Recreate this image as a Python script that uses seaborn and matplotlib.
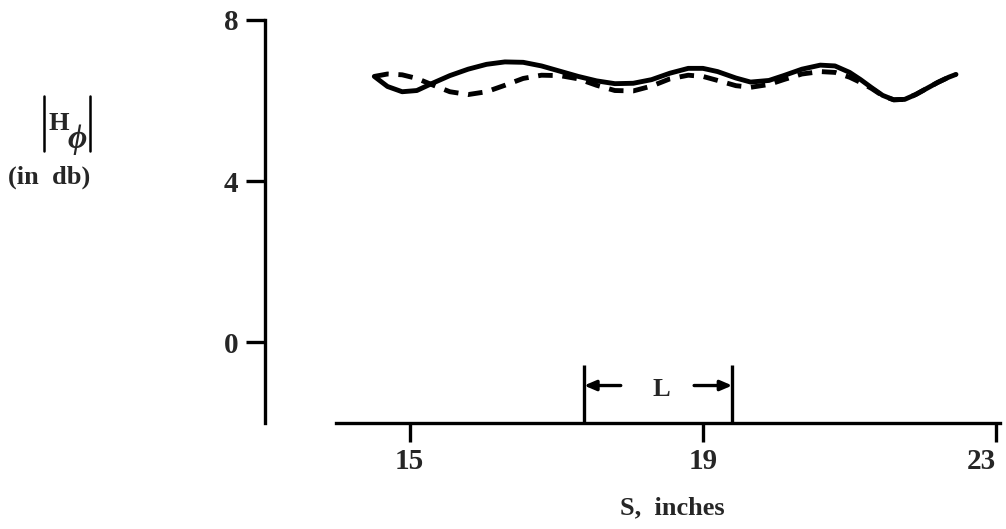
import numpy as np
import pandas as pd
import matplotlib
matplotlib.use("Agg")
import matplotlib.pyplot as plt
from matplotlib.lines import Line2D
import seaborn as sns

# Data
s_solid = [14.52, 14.7, 14.9, 15.1, 15.3, 15.55, 15.8, 16.05, 16.3, 16.55, 16.8, 17.05, 17.3, 17.55, 17.8, 18.05, 18.3, 18.55, 18.8, 19.0, 19.2, 19.45, 19.65, 19.9, 20.1, 20.35, 20.6, 20.8, 21.0, 21.15, 21.3, 21.45, 21.6, 21.75, 21.9, 22.05, 22.2, 22.35, 22.45]
db_solid = [6.60, 6.35, 6.22, 6.25, 6.42, 6.62, 6.78, 6.90, 6.96, 6.95, 6.86, 6.73, 6.60, 6.49, 6.42, 6.43, 6.52, 6.68, 6.80, 6.80, 6.72, 6.56, 6.46, 6.50, 6.62, 6.78, 6.88, 6.86, 6.70, 6.52, 6.32, 6.13, 6.02, 6.03, 6.15, 6.30, 6.45, 6.58, 6.65]
s_dashed = [14.52, 14.7, 14.9, 15.1, 15.3, 15.55, 15.8, 16.05, 16.3, 16.55, 16.8, 17.05, 17.3, 17.55, 17.8, 18.05, 18.3, 18.55, 18.8, 19.0, 19.2, 19.45, 19.65, 19.9, 20.1, 20.35, 20.6, 20.8, 21.0, 21.15, 21.3, 21.45, 21.6, 21.75, 21.9, 22.05, 22.2, 22.35, 22.45]
db_dashed = [6.60, 6.66, 6.64, 6.55, 6.40, 6.22, 6.15, 6.22, 6.38, 6.55, 6.63, 6.62, 6.54, 6.38, 6.25, 6.24, 6.36, 6.54, 6.63, 6.60, 6.50, 6.37, 6.33, 6.40, 6.52, 6.66, 6.72, 6.70, 6.58, 6.45, 6.30, 6.12, 6.02, 6.03, 6.15, 6.30, 6.45, 6.58, 6.65]
x_ticks = [15, 19, 23]
y_ticks = [0, 4, 8]
L_span = [17.38, 19.40]

df = pd.concat([
    pd.DataFrame({"S": s_solid, "dB": db_solid, "curve": "a"}),
    pd.DataFrame({"S": s_dashed, "dB": db_dashed, "curve": "b"}),
])

sns.set_style("white")
plt.rcParams["font.family"] = ["Liberation Serif", "DejaVu Serif"]
plt.rcParams["font.weight"] = "bold"

fig = plt.figure(figsize=(10.06, 5.29), dpi=100)
W, H = 1006, 529
ax = fig.add_axes([265 / W, (H - 423) / H, (1000 - 265) / W, (423 - 20) / H])

sns.lineplot(data=df, x="S", y="dB", style="curve", dashes={"a": "", "b": (3.0, 2.0)},
             color="black", linewidth=3.5, ax=ax, legend=False, sort=False, estimator=None)

ax.set_xlim(13.03, 23.05)
ax.set_ylim(-2.0, 8.0)
for sp in ["top", "right"]:
    ax.spines[sp].set_visible(False)
ax.spines["left"].set_bounds(-2.0, 8.0)
ax.spines["bottom"].set_bounds(14.0, 23.05)
for sp in ["left", "bottom"]:
    ax.spines[sp].set_linewidth(2.4)
    ax.spines[sp].set_color("black")

ax.set_xticks(x_ticks)
ax.set_yticks(y_ticks)
ax.set_xticklabels([str(v) for v in x_ticks], fontsize=21, fontweight="bold")
ax.set_yticklabels([str(v) for v in y_ticks], fontsize=21, fontweight="bold")
ax.tick_params(axis="both", which="major", bottom=True, left=True, direction="out",
               width=2.4, color="black")
ax.tick_params(axis="y", length=14, pad=5)
ax.tick_params(axis="x", length=14, pad=4)
ax.get_xticklabels()[-1].set_horizontalalignment("right")
ax.set_xlabel("")
ax.set_ylabel("")

# L marker
ax.vlines(L_span, -2.0, -0.57, color="black", linewidth=2.4)
ymark = -1.07
ax.annotate("", xy=(L_span[0], ymark), xytext=(17.88, ymark),
            arrowprops=dict(arrowstyle="-|>,head_length=0.7,head_width=0.3", color="black", lw=2.4, shrinkA=0, shrinkB=0))
ax.annotate("", xy=(L_span[1], ymark), xytext=(18.88, ymark),
            arrowprops=dict(arrowstyle="-|>,head_length=0.7,head_width=0.3", color="black", lw=2.4, shrinkA=0, shrinkB=0))
ax.text(18.44, -1.18, "L", ha="center", va="center", fontsize=19, fontweight="bold")

# y label
fig.text(59 / W, 1 - 124 / H, "H", ha="center", va="center", fontsize=19, fontweight="bold")
fig.text(77 / W, 1 - 139 / H, "ϕ", ha="center", va="center", fontsize=24, fontweight="bold", style="italic")
fig.add_artist(Line2D([44 / W, 44 / W], [1 - 96 / H, 1 - 151 / H], color="black", lw=1.8))
fig.add_artist(Line2D([90 / W, 90 / W], [1 - 96 / H, 1 - 151 / H], color="black", lw=1.8))
fig.text(49 / W, 1 - 177 / H, "(in  db)", ha="center", va="center", fontsize=19, fontweight="bold")

# x label
fig.text(672 / W, 1 - 508 / H, "S,  inches", ha="center", va="center", fontsize=19, fontweight="bold")

fig.savefig("out.png", dpi=100)
